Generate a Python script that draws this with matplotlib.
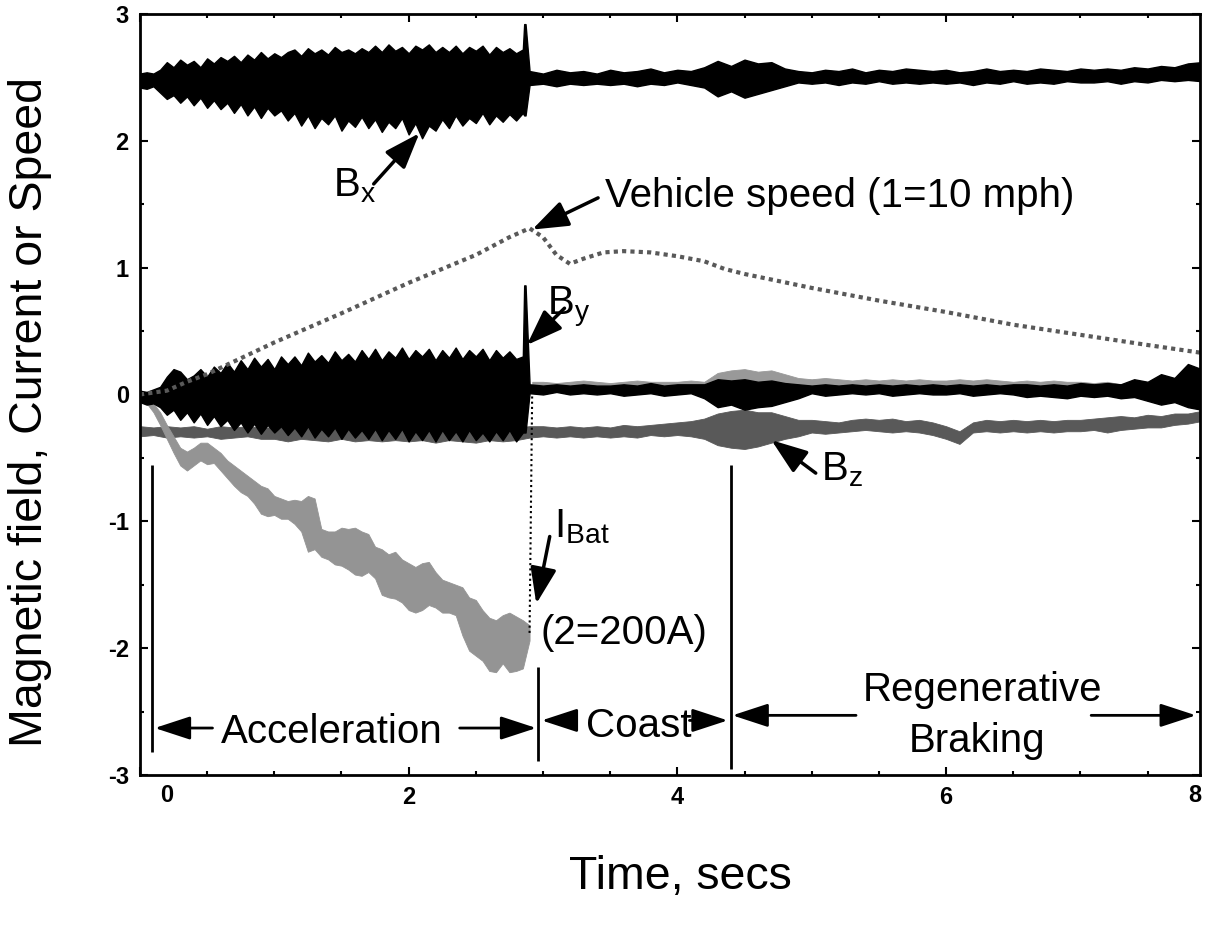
import matplotlib
matplotlib.use('Agg')
import matplotlib.pyplot as plt
import numpy as np

plt.rcParams['font.family'] = 'Liberation Sans'
plt.rcParams['mathtext.default'] = 'regular'
plt.rcParams['axes.unicode_minus'] = False

# sampling grids (s)
t_fast = np.round(np.arange(0, 2.851, 0.05), 2)
t_spike = np.array([2.86, 2.87])
t_slow = np.round(np.arange(2.9, 7.91, 0.1), 2)
t_b = np.concatenate([t_fast, t_spike, t_slow])
t_bz = np.round(np.arange(0, 7.91, 0.1), 2)
t_ibat = np.round(np.arange(0, 2.901, 0.05), 2)
t_ibat_post = np.r_[2.92, np.round(np.arange(3.0, 7.91, 0.1), 2)]

# B_x envelope
bx_hi = [2.53, 2.54, 2.53, 2.56,
         2.62, 2.58, 2.64, 2.60, 2.63, 2.58, 2.65, 2.61, 2.66,
         2.63, 2.67, 2.62, 2.68, 2.64, 2.70, 2.65, 2.69, 2.66, 2.70,
         2.72, 2.67, 2.73, 2.69, 2.72, 2.68, 2.74, 2.70, 2.72, 2.69, 2.73, 2.70,
         2.75, 2.70, 2.76, 2.71, 2.74, 2.69, 2.75, 2.72, 2.76, 2.70,
         2.74, 2.70, 2.75, 2.69, 2.74, 2.71, 2.75, 2.68, 2.74, 2.70, 2.73, 2.69, 2.72,
         2.92, 2.92,
         2.55, 2.53, 2.56, 2.54, 2.55, 2.53,
         2.56, 2.54, 2.55, 2.57, 2.54, 2.56, 2.55,
         2.58, 2.63, 2.59, 2.64, 2.61, 2.62, 2.57,
         2.55, 2.54, 2.56, 2.55, 2.57, 2.54, 2.56, 2.55, 2.57, 2.56, 2.55,
         2.56, 2.54, 2.55, 2.57, 2.55, 2.56, 2.55, 2.57, 2.56, 2.55, 2.57,
         2.56, 2.57, 2.56, 2.58, 2.57, 2.59, 2.58, 2.61, 2.62]
bx_lo = [2.42, 2.41, 2.43, 2.38,
         2.33, 2.36, 2.30, 2.35, 2.28, 2.34, 2.26, 2.32, 2.25,
         2.30, 2.22, 2.29, 2.20, 2.27, 2.18, 2.26, 2.20, 2.24, 2.16,
         2.22, 2.12, 2.20, 2.10, 2.18, 2.13, 2.20, 2.08, 2.16, 2.11, 2.19, 2.10,
         2.17, 2.07, 2.15, 2.10, 2.18, 2.05, 2.14, 2.02, 2.12, 2.08,
         2.17, 2.10, 2.20, 2.12, 2.18, 2.14, 2.22, 2.13, 2.20, 2.15, 2.21, 2.16, 2.22,
         2.20, 2.20,
         2.44, 2.45, 2.43, 2.45, 2.44, 2.45,
         2.44, 2.45, 2.43, 2.45, 2.44, 2.46, 2.44,
         2.42, 2.35, 2.39, 2.34, 2.37, 2.40, 2.43,
         2.46, 2.45, 2.46, 2.44, 2.46, 2.45, 2.47, 2.45, 2.46, 2.45, 2.46,
         2.45, 2.46, 2.44, 2.46, 2.45, 2.47, 2.45, 2.46, 2.45, 2.47, 2.46,
         2.46, 2.47, 2.45, 2.47, 2.46, 2.48, 2.47, 2.48, 2.47]

# B_y envelope
by_hi = [0.03, 0.02, 0.04, 0.06,
         0.14, 0.20, 0.18, 0.12, 0.15, 0.20, 0.14, 0.22, 0.17,
         0.25, 0.18, 0.27, 0.20, 0.29, 0.22, 0.28, 0.20, 0.30, 0.24,
         0.30, 0.23, 0.33, 0.26, 0.31, 0.25, 0.34, 0.27, 0.32, 0.26, 0.35, 0.28,
         0.36, 0.27, 0.34, 0.29, 0.37, 0.28, 0.35, 0.30, 0.36, 0.27,
         0.35, 0.29, 0.37, 0.28, 0.35, 0.30, 0.36, 0.27, 0.35, 0.29, 0.34, 0.28, 0.30,
         0.86, 0.86,
         0.08, 0.07, 0.08, 0.07, 0.08, 0.07,
         0.07, 0.08, 0.07, 0.09, 0.07, 0.08, 0.08,
         0.08, 0.12, 0.11, 0.12, 0.10, 0.11, 0.09,
         0.08, 0.07, 0.08, 0.07, 0.08, 0.07, 0.08, 0.07, 0.08, 0.07, 0.08,
         0.07, 0.08, 0.07, 0.08, 0.07, 0.08, 0.08, 0.07, 0.08, 0.07, 0.09,
         0.08, 0.09, 0.08, 0.12, 0.10, 0.16, 0.13, 0.24, 0.20]
by_lo = [-0.06, -0.08, -0.07, -0.10,
         -0.16, -0.12, -0.20, -0.14, -0.22, -0.15, -0.24, -0.17, -0.25,
         -0.20, -0.28, -0.22, -0.30, -0.23, -0.31, -0.24, -0.30, -0.25, -0.32,
         -0.26, -0.33, -0.25, -0.34, -0.27, -0.33, -0.26, -0.35, -0.27, -0.34, -0.28, -0.35,
         -0.27, -0.36, -0.28, -0.35, -0.27, -0.37, -0.29, -0.36, -0.28, -0.37,
         -0.28, -0.36, -0.29, -0.37, -0.28, -0.36, -0.30, -0.37, -0.29, -0.36, -0.28, -0.37, -0.30,
         -0.30, -0.30,
         0.01, 0.00, 0.02, 0.00, 0.01, 0.00,
         0.01, -0.01, 0.00, 0.01, -0.01, 0.00, 0.01,
         -0.03, -0.10, -0.08, -0.12, -0.10, -0.09, -0.06,
         -0.03, 0.01, -0.01, 0.00, 0.01, 0.00, 0.01, -0.01, 0.00, 0.01, 0.00,
         0.00, 0.01, -0.01, 0.00, 0.01, 0.00, -0.02, -0.01, -0.02, -0.03, -0.01,
         -0.02, -0.01, -0.03, -0.02, -0.05, -0.08, -0.06, -0.10, -0.12]

# B_z envelope
bz_hi = [-0.25, -0.26, -0.25, -0.26, -0.25, -0.27, -0.25, -0.26, -0.25, -0.26,
         -0.26, -0.25, -0.27, -0.26, -0.25, -0.27, -0.26, -0.25, -0.27, -0.26,
         -0.26, -0.27, -0.25, -0.26, -0.27, -0.25, -0.26, -0.27, -0.26, -0.25,
         -0.25, -0.26, -0.25, -0.26, -0.25, -0.26, -0.24, -0.25, -0.24, -0.23,
         -0.22, -0.21, -0.19, -0.15, -0.13, -0.12, -0.14, -0.14, -0.17, -0.20,
         -0.20, -0.21, -0.22, -0.20, -0.19, -0.20, -0.19, -0.21, -0.20, -0.22,
         -0.25, -0.29, -0.22, -0.20, -0.21, -0.20, -0.21, -0.20, -0.21, -0.20,
         -0.20, -0.19, -0.18, -0.17, -0.18, -0.16, -0.17, -0.15, -0.15, -0.13]
bz_lo = [-0.33, -0.32, -0.34, -0.33, -0.34, -0.33, -0.35, -0.34, -0.33, -0.35,
         -0.35, -0.37, -0.35, -0.36, -0.37, -0.35, -0.37, -0.36, -0.37, -0.36,
         -0.37, -0.36, -0.38, -0.36, -0.37, -0.38, -0.36, -0.37, -0.36, -0.34,
         -0.33, -0.34, -0.33, -0.34, -0.33, -0.34, -0.33, -0.34, -0.32, -0.33,
         -0.32, -0.33, -0.35, -0.40, -0.42, -0.43, -0.41, -0.38, -0.35, -0.33,
         -0.30, -0.31, -0.30, -0.29, -0.28, -0.29, -0.30, -0.29, -0.30, -0.32,
         -0.35, -0.39, -0.30, -0.29, -0.30, -0.29, -0.30, -0.29, -0.30, -0.29,
         -0.29, -0.28, -0.30, -0.28, -0.27, -0.26, -0.26, -0.24, -0.23, -0.21]

# battery current, acceleration phase
ibat_hi = [0.01, -0.02, -0.07, -0.14, -0.24, -0.33, -0.42, -0.45, -0.42, -0.38,
           -0.38, -0.42, -0.46, -0.52, -0.56, -0.60, -0.64, -0.68, -0.72, -0.74,
           -0.80, -0.82, -0.84, -0.83, -0.84, -0.80, -0.82, -1.06, -1.08, -1.08,
           -1.05, -1.06, -1.05, -1.08, -1.10, -1.20, -1.22, -1.26, -1.24, -1.30,
           -1.33, -1.36, -1.33, -1.32, -1.40, -1.46, -1.48, -1.50, -1.52, -1.60,
           -1.62, -1.70, -1.76, -1.78, -1.74, -1.72, -1.75, -1.78, -1.82]
ibat_lo = [-0.02, -0.07, -0.14, -0.24, -0.35, -0.46, -0.56, -0.60, -0.56, -0.52,
           -0.55, -0.54, -0.60, -0.66, -0.72, -0.77, -0.80, -0.86, -0.94, -0.96,
           -0.95, -0.98, -0.98, -1.02, -1.08, -1.24, -1.22, -1.28, -1.30, -1.34,
           -1.35, -1.38, -1.42, -1.43, -1.40, -1.45, -1.58, -1.60, -1.61, -1.64,
           -1.70, -1.72, -1.70, -1.66, -1.68, -1.72, -1.72, -1.74, -1.90, -2.02,
           -2.06, -2.10, -2.18, -2.19, -2.12, -2.19, -2.18, -2.16, -1.94]
# battery current after the throttle is released
ibat_post_hi = [0.10,
                0.10, 0.09, 0.10, 0.11, 0.10, 0.09, 0.10, 0.11, 0.10, 0.10,
                0.10, 0.11, 0.10, 0.17, 0.19, 0.20, 0.18, 0.19, 0.16, 0.13,
                0.12, 0.13, 0.12, 0.11, 0.12, 0.11, 0.12, 0.11, 0.12, 0.11,
                0.11, 0.12, 0.11, 0.12, 0.11, 0.10, 0.11, 0.10, 0.11, 0.10,
                0.10, 0.09, 0.10, 0.08, 0.08, 0.07, 0.06, 0.06, 0.05, 0.05]
ibat_post_lo = [0.02,
                0.03, 0.04, 0.03, 0.04, 0.03, 0.04, 0.03, 0.04, 0.03, 0.04,
                0.04, 0.03, 0.04, 0.10, 0.10, 0.11, 0.10, 0.09, 0.08, 0.06,
                0.06, 0.07, 0.06, 0.05, 0.06, 0.05, 0.06, 0.05, 0.06, 0.05,
                0.05, 0.06, 0.05, 0.06, 0.05, 0.04, 0.05, 0.04, 0.05, 0.04,
                0.04, 0.03, 0.03, 0.02, 0.01, 0.00, -0.01, -0.02, -0.03, -0.04]

# vehicle speed (1 = 10 mph)
speed_t = [0, 0.2, 0.35, 0.5, 1.0, 1.5, 2.0, 2.5, 2.75, 2.9, 3.0, 3.1, 3.2, 3.3,
           3.45, 3.6, 3.8, 4.0, 4.2, 4.35, 4.5, 5.0, 5.5, 6.0, 6.5, 7.0, 7.5, 7.89]
speed = [0.0, 0.03, 0.10, 0.16, 0.41, 0.64, 0.88, 1.10, 1.24, 1.31, 1.24, 1.10, 1.03, 1.07,
         1.12, 1.13, 1.12, 1.09, 1.05, 0.99, 0.95, 0.84, 0.74, 0.65, 0.55, 0.47, 0.39, 0.33]

# drive phase boundaries: time, bottom, top
phase_t = [0.09, 2.96, 4.40]
phase_bottom = [-2.82, -2.89, -2.95]
phase_top = [-0.56, -2.15, -0.56]

fig = plt.figure(figsize=(12.18, 9.25), dpi=100)
ax = fig.add_axes([0.1149, 0.1622, 0.8703, 0.8227])

ax.fill_between(t_bz, bz_lo, bz_hi, color='0.35', lw=0.6)
ax.fill_between(t_ibat, ibat_lo, ibat_hi, color='0.58', lw=0.6)
ax.fill_between(t_ibat_post, ibat_post_lo, ibat_post_hi, color='0.6', lw=0.6)
ax.plot([t_ibat[-1], t_ibat_post[0]],
        [(ibat_lo[-1] + ibat_hi[-1]) / 2, (ibat_post_lo[0] + ibat_post_hi[0]) / 2],
        color='k', lw=1.5, ls=(0, (1, 1.5)))
ax.plot(speed_t, speed, color='0.35', lw=3, ls=(0, (1, 1)))
ax.fill_between(t_b, by_lo, by_hi, color='k', lw=1)
ax.fill_between(t_b, bx_lo, bx_hi, color='k', lw=1)

ax.vlines(phase_t, phase_bottom, phase_top, color='k', lw=2)

ax.set_xlim(0, 7.89)
ax.set_ylim(-3, 3)
ax.set_xticks([0, 2, 4, 6])
ax.set_xticklabels(['', '2', '4', '6'])
ax.set_xticks(np.arange(0, 7.9, 0.5), minor=True)
ax.set_yticks([-3, -2, -1, 0, 1, 2, 3])
ax.set_yticks(np.arange(-3, 3.01, 0.5), minor=True)
ax.tick_params(which='both', direction='in', top=True, right=True, width=1.5)
ax.tick_params(which='major', length=6, labelsize=17, pad=8)
ax.tick_params(which='minor', length=3)
for lab in ax.get_xticklabels() + ax.get_yticklabels():
    lab.set_fontweight('bold')
ax.text(0.2, -3.07, '0', ha='center', va='top', fontsize=17, fontweight='bold')
ax.text(7.85, -3.07, '8', ha='center', va='top', fontsize=17, fontweight='bold')
for s in ax.spines.values():
    s.set_linewidth(2)

fig.text(0.025, 0.555, 'Magnetic field, Current or Speed', rotation=90,
         ha='center', va='center', fontsize=33.5)
fig.text(0.559, 0.052, 'Time, secs', ha='center', va='center', fontsize=33.5)

lab_kw = dict(fontsize=29)
pointer = dict(arrowstyle='-|>,head_length=1.1,head_width=0.4', color='k', lw=2.5,
               mutation_scale=20, shrinkA=0, shrinkB=0)

ax.text(1.44, 1.56, r'B$_{x}$', ha='left', va='baseline', **lab_kw)
ax.annotate('', xy=(2.08, 2.06), xytext=(1.74, 1.66), arrowprops=pointer)

ax.text(3.46, 1.48, 'Vehicle speed (1=10 mph)', ha='left', va='baseline', **lab_kw)
ax.annotate('', xy=(2.92, 1.30), xytext=(3.41, 1.55), arrowprops=pointer)

ax.text(3.03, 0.63, r'B$_{y}$', ha='left', va='baseline', **lab_kw)
ax.annotate('', xy=(2.88, 0.39), xytext=(3.16, 0.68), arrowprops=pointer)

ax.text(5.07, -0.68, r'B$_{z}$', ha='left', va='baseline', **lab_kw)
ax.annotate('', xy=(4.70, -0.36), xytext=(5.03, -0.62), arrowprops=pointer)

ax.text(3.08, -1.13, r'I$_{Bat}$', ha='left', va='baseline', **lab_kw)
ax.annotate('', xy=(2.95, -1.65), xytext=(3.05, -1.12), arrowprops=pointer)

ax.text(2.98, -1.97, '(2=200A)', ha='left', va='baseline', **lab_kw)

# drive phases along the bottom
span = dict(arrowstyle='-|>,head_length=1.1,head_width=0.36', color='k', lw=2,
            mutation_scale=20, shrinkA=0, shrinkB=0)
ax.annotate('', xy=(0.11, -2.63), xytext=(0.54, -2.63), arrowprops=span)
ax.annotate('', xy=(2.95, -2.63), xytext=(2.38, -2.63), arrowprops=span)
ax.text(1.43, -2.75, 'Acceleration', ha='center', va='baseline', **lab_kw)

ax.annotate('', xy=(2.99, -2.57), xytext=(3.24, -2.57), arrowprops=span)
ax.annotate('', xy=(4.375, -2.57), xytext=(4.09, -2.57), arrowprops=span)
ax.text(3.71, -2.70, 'Coast', ha='center', va='baseline', **lab_kw)

ax.annotate('', xy=(4.41, -2.53), xytext=(5.33, -2.53), arrowprops=span)
ax.annotate('', xy=(7.86, -2.53), xytext=(7.08, -2.53), arrowprops=span)
ax.text(6.27, -2.42, 'Regenerative', ha='center', va='baseline', **lab_kw)
ax.text(6.23, -2.82, 'Braking', ha='center', va='baseline', **lab_kw)

fig.savefig('out.png', dpi=100)
